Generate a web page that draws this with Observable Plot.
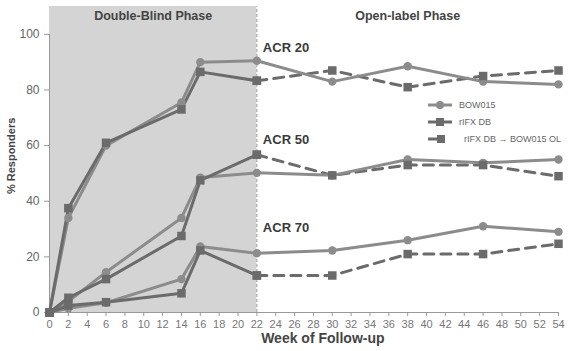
<!DOCTYPE html>
<html>
<head>
<meta charset="utf-8">
<script src="https://cdn.jsdelivr.net/npm/d3@7"></script>
<script src="https://cdn.jsdelivr.net/npm/@observablehq/plot@0.6"></script>
<style>
  html, body { margin: 0; padding: 0; background: #fff; }
  #wrap { position: relative; width: 570px; height: 351px; font-family: "Liberation Sans", Arial, sans-serif; }
  #legend { position: absolute; left: 427px; top: 96px; font-size: 9px; color: #666; }
  #legend .row { display: flex; align-items: center; height: 17px; }
  #legend svg { margin-right: 6px; }
</style>
</head>
<body>
<div id="wrap">
  <div id="chart"></div>
  <div id="legend"></div>
</div>
<script>
// ---- data ----
const weeksBOW = [0, 2, 6, 14, 16, 22, 30, 38, 46, 54];
const weeksDB = [0, 2, 6, 14, 16, 22];
const weeksOL = [22, 30, 38, 46, 54];

const bow20 = [0, 34, 60, 75.5, 90, 90.5, 83, 88.5, 83, 82];
const rifx20 = [0, 37.5, 61, 73, 86.5, 83.3];
const ol20 = [83.3, 87, 81, 85, 87];

const bow50 = [0, 4, 14.5, 34, 48.5, 50.2, 49.3, 55, 53.8, 55];
const rifx50 = [0, 5.3, 12, 27.5, 47.5, 56.7];
const ol50 = [56.7, 49.3, 53, 53, 49];

const bow70 = [0, 1.5, 3.5, 12, 23.7, 21.3, 22.3, 26, 31, 29];
const rifx70 = [0, 2.5, 3.7, 6.9, 22.3, 13.3];
const ol70 = [13.3, 13.3, 21, 21, 24.7];

const seriesNames = ["BOW015", "rIFX DB", "rIFX DB \u2192 BOW015 OL"];
const yTicks = [0, 20, 40, 60, 80, 100];
const xTicks = d3.range(0, 55, 2);
const phases = [{label: "Double-Blind Phase", x: 11}, {label: "Open-label Phase", x: 38}];
const acrLabels = [{label: "ACR 20", y: 95}, {label: "ACR 50", y: 62}, {label: "ACR 70", y: 30.3}];
const dbEnd = 22;

// ---- build tables ----
const toRows = (xs, ys, series, group) => xs.map((x, i) => ({x, y: ys[i], series, group}));
const bowRows = [
  ...toRows(weeksBOW, bow20, "BOW015", "ACR20"),
  ...toRows(weeksBOW, bow50, "BOW015", "ACR50"),
  ...toRows(weeksBOW, bow70, "BOW015", "ACR70")
];
const dbRows = [
  ...toRows(weeksDB, rifx20, "rIFX DB", "ACR20"),
  ...toRows(weeksDB, rifx50, "rIFX DB", "ACR50"),
  ...toRows(weeksDB, rifx70, "rIFX DB", "ACR70")
];
const olRows = [
  ...toRows(weeksOL, ol20, "OL", "ACR20"),
  ...toRows(weeksOL, ol50, "OL", "ACR50"),
  ...toRows(weeksOL, ol70, "OL", "ACR70")
];

const cBow = "#8c8c8c";
const cDb = "#6b6b6b";
const textCol = "#444";
const font = "Liberation Sans, Arial, sans-serif";

const chart = Plot.plot({
  width: 570,
  height: 351,
  marginLeft: 49,
  marginRight: 12,
  marginTop: 6,
  marginBottom: 39,
  style: {fontFamily: font, background: "transparent", overflow: "visible"},
  x: {domain: [0, 54]},
  y: {domain: [0, 110]},
  marks: [
    Plot.rectY([dbEnd], {x1: 0, x2: d => d, y1: 0, y2: 110, fill: "#d4d4d4"}),
    Plot.ruleX([dbEnd], {y1: 0, y2: 110, stroke: "#9a9a9a", strokeWidth: 1, strokeDasharray: "3,2"}),
    // axes
    Plot.ruleX([0], {y1: 0, y2: 100, stroke: "#999", strokeWidth: 1}),
    Plot.ruleY([0], {x1: 0, x2: 54, stroke: "#999", strokeWidth: 1.2}),
    Plot.axisY({ticks: yTicks, tickSize: 5, tickPadding: 5, label: null, fontSize: 12, color: "#666", stroke: "#999"}),
    Plot.axisX({ticks: xTicks, tickSize: 4, tickPadding: 4, label: null, fontSize: 11, color: "#777", stroke: "#999"}),
    // lines
    Plot.line(olRows, {x: "x", y: "y", z: "group", stroke: cDb, strokeWidth: 3, strokeDasharray: "10,7"}),
    Plot.line(bowRows, {x: "x", y: "y", z: "group", stroke: cBow, strokeWidth: 3}),
    Plot.line(dbRows, {x: "x", y: "y", z: "group", stroke: cDb, strokeWidth: 3}),
    Plot.dot(bowRows, {x: "x", y: "y", r: 4.2, fill: cBow, stroke: "none"}),
    Plot.dot(dbRows, {x: "x", y: "y", symbol: "square", r: 4.8, fill: cDb, stroke: "none"}),
    Plot.dot(olRows, {x: "x", y: "y", symbol: "square", r: 4.8, fill: cDb, stroke: "none"}),
    // annotations
    Plot.text(phases, {x: "x", y: 106.6, text: "label", fontSize: 12.5, fontWeight: "bold", fill: textCol}),
    Plot.text(acrLabels, {x: dbEnd, y: "y", text: "label", dx: 6, textAnchor: "start", fontSize: 13, fontWeight: "bold", fill: "#3a3a3a"}),
    Plot.text(["% Responders"], {y: 56.3, frameAnchor: "left", dx: -38, rotate: -90, textAnchor: "middle", text: d => d, fontSize: 11, fontWeight: "bold", fill: textCol}),
    Plot.text(["Week of Follow-up"], {x: 29, frameAnchor: "bottom", dy: 30, text: d => d, fontSize: 14, fontWeight: "bold", fill: textCol})
  ]
});
document.getElementById("chart").appendChild(chart);

// ---- legend ----
const legend = d3.select("#legend");
seriesNames.forEach((name, i) => {
  const row = legend.append("div").attr("class", "row");
  const svg = row.append("svg").attr("width", 26).attr("height", 12);
  if (i === 0) {
    svg.append("line").attr("x1", 1).attr("x2", 25).attr("y1", 6).attr("y2", 6).attr("stroke", cBow).attr("stroke-width", 3);
    svg.append("circle").attr("cx", 13).attr("cy", 6).attr("r", 4).attr("fill", cBow);
  } else if (i === 1) {
    svg.append("line").attr("x1", 1).attr("x2", 25).attr("y1", 6).attr("y2", 6).attr("stroke", cDb).attr("stroke-width", 3);
    svg.append("rect").attr("x", 9).attr("y", 2).attr("width", 8).attr("height", 8).attr("fill", cDb);
  } else {
    svg.append("line").attr("x1", 1).attr("x2", 10).attr("y1", 6).attr("y2", 6).attr("stroke", cDb).attr("stroke-width", 3);
    svg.append("rect").attr("x", 10).attr("y", 2).attr("width", 8).attr("height", 8).attr("fill", cDb);
  }
  row.append("span").text(name).style("margin-left", i === 2 ? "5px" : "0px");
});
</script>
</body>
</html>
